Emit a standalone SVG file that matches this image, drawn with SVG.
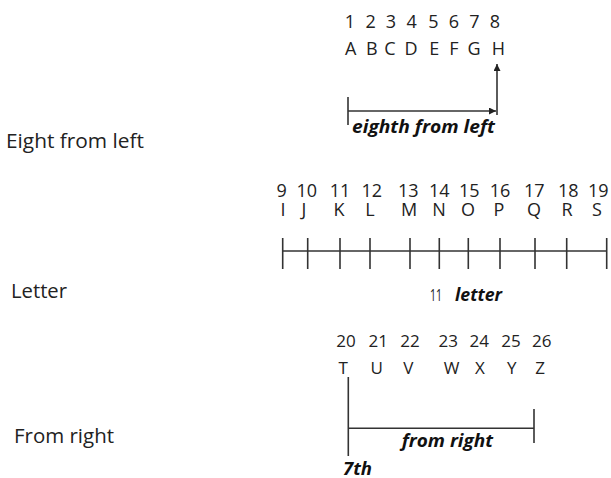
<svg xmlns="http://www.w3.org/2000/svg" width="611" height="478" viewBox="0 0 611 478">
<defs>
<style>
text{font-family:"Open Sans","Noto Sans","Liberation Sans",sans-serif;fill:#222}
.lbl{font-size:20px}
.row{font-size:18px;text-anchor:middle}
.row2{font-size:17px;text-anchor:middle}
.bi{font-size:17px;font-weight:bold;font-style:italic;fill:#111}
.ln{stroke:#333;stroke-width:1.6;fill:none}
</style>
<marker id="ah" viewBox="0 0 10 10" refX="10" refY="5" markerWidth="7" markerHeight="7" markerUnits="userSpaceOnUse" orient="auto">
<path d="M0,0 L10,5 L0,10 z" fill="#222"/>
</marker>
</defs>
<rect width="611" height="478" fill="#fff"/>

<g id="left-labels">
<text class="lbl" x="6" y="148" textLength="138" lengthAdjust="spacingAndGlyphs">Eight from left</text>
<text class="lbl" x="11" y="298" textLength="56" lengthAdjust="spacingAndGlyphs">Letter</text>
<text class="lbl" x="14" y="443" textLength="100" lengthAdjust="spacingAndGlyphs">From right</text>
</g>

<g id="top-row">
<text class="row" y="28"><tspan x="350">1</tspan><tspan x="370.7">2</tspan><tspan x="391">3</tspan><tspan x="411.7">4</tspan><tspan x="433.3">5</tspan><tspan x="454">6</tspan><tspan x="474.3">7</tspan><tspan x="495">8</tspan></text>
<text class="row" y="55"><tspan x="350.7">A</tspan><tspan x="371.7">B</tspan><tspan x="390">C</tspan><tspan x="411">D</tspan><tspan x="434.3">E</tspan><tspan x="454">F</tspan><tspan x="474">G</tspan><tspan x="498.3">H</tspan></text>
</g>

<g id="middle-row">
<text class="row" y="196.5"><tspan x="281.7">9</tspan><tspan x="306.7">10</tspan><tspan x="340">11</tspan><tspan x="371.7">12</tspan><tspan x="408.3">13</tspan><tspan x="439.3">14</tspan><tspan x="469.3">15</tspan><tspan x="500">16</tspan><tspan x="534.3">17</tspan><tspan x="568.3">18</tspan><tspan x="598.3">19</tspan></text>
<text class="row" y="216"><tspan x="283">I</tspan><tspan x="304">J</tspan><tspan x="339">K</tspan><tspan x="370">L</tspan><tspan x="409">M</tspan><tspan x="439">N</tspan><tspan x="468">O</tspan><tspan x="499">P</tspan><tspan x="534">Q</tspan><tspan x="567">R</tspan><tspan x="597">S</tspan></text>
</g>

<g id="bottom-row">
<text class="row2" y="347"><tspan x="346">20</tspan><tspan x="378.3">21</tspan><tspan x="410">22</tspan><tspan x="448.3">23</tspan><tspan x="479.3">24</tspan><tspan x="511">25</tspan><tspan x="541.7">26</tspan></text>
<text class="row2" y="373.5"><tspan x="343.3">T</tspan><tspan x="376.7">U</tspan><tspan x="408.3">V</tspan><tspan x="451.7">W</tspan><tspan x="480">X</tspan><tspan x="511.7">Y</tspan><tspan x="540">Z</tspan></text>
</g>

<g id="connectors">
<line class="ln" x1="348" y1="97" x2="348" y2="125"/>
<line class="ln" x1="348" y1="111" x2="496" y2="111" marker-end="url(#ah)"/>
<line class="ln" x1="497" y1="115" x2="497" y2="64" marker-end="url(#ah)"/>
<line class="ln" x1="282" y1="251" x2="607" y2="251"/>
<path class="ln" d="M282.7,238V269 M307.7,238V269 M340,238V269 M370,238V269 M410,238V269 M439.3,238V269 M468.3,238V269 M500,238V269 M535,238V269 M566.7,238V269 M606.7,238V269"/>
<line class="ln" x1="348.3" y1="377" x2="348.3" y2="456"/>
<line class="ln" x1="348.3" y1="428.3" x2="534" y2="428.3"/>
<line class="ln" x1="534" y1="409" x2="534" y2="443"/>
</g>

<g id="annotations">
<text class="bi" x="352" y="133" textLength="143" lengthAdjust="spacingAndGlyphs">eighth from left</text>
<text x="430" y="300.5" style="font-size:16px" textLength="12" lengthAdjust="spacingAndGlyphs">11</text>
<text class="bi" x="455" y="300.5" textLength="47" lengthAdjust="spacingAndGlyphs">letter</text>
<text class="bi" x="401.7" y="446.7" textLength="91.3" lengthAdjust="spacingAndGlyphs">from right</text>
<text class="bi" x="343" y="475" textLength="29" lengthAdjust="spacingAndGlyphs">7th</text>
</g>
</svg>
